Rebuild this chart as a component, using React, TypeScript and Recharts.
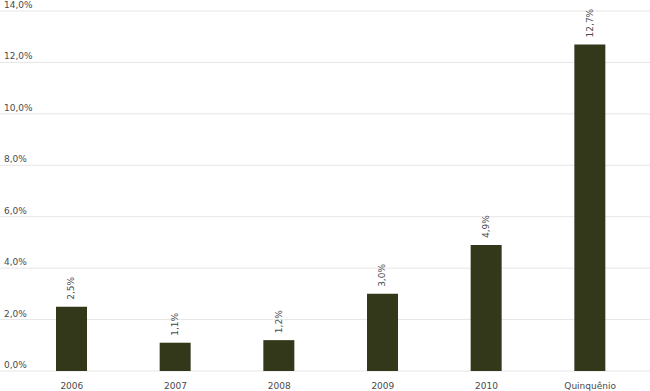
import React from 'react';
import { BarChart, Bar, XAxis, YAxis, CartesianGrid, LabelList } from 'recharts';

const categories = ['2006', '2007', '2008', '2009', '2010', 'Quinquênio'];
const values = [2.5, 1.1, 1.2, 3.0, 4.9, 12.7];
const yTicks = [0, 2, 4, 6, 8, 10, 12, 14];

const data = categories.map((c, i) => ({ name: c, value: values[i] }));

const fmt = (v: number) => v.toFixed(1).replace('.', ',') + '%';

const FONT = 'DejaVu Sans, Verdana, sans-serif';
const TEXT = '#4a4a4a';

const YTick = (props: any) => {
  const { y, payload } = props;
  return (
    <text x={4} y={y - 3} fill={TEXT} fontSize={9} fontFamily={FONT} textAnchor="start">
      {fmt(payload.value)}
    </text>
  );
};

const XTick = (props: any) => {
  const { x, y, payload } = props;
  return (
    <text x={x} y={y + 10} fill={TEXT} fontSize={9} fontFamily={FONT} textAnchor="middle">
      {payload.value}
    </text>
  );
};

const BarLabel = (props: any) => {
  const { x, y, width, value } = props;
  const cx = x + width / 2;
  const ty = y - 7;
  return (
    <text
      x={cx}
      y={ty}
      transform={`rotate(-90, ${cx}, ${ty})`}
      fill={TEXT}
      fontSize={9}
      fontFamily={FONT}
      textAnchor="start"
      dominantBaseline="central"
    >
      {fmt(value)}
    </text>
  );
};

export default function App() {
  return (
    <div style={{ position: 'absolute', left: 0, top: 0, width: 650, height: 391, background: '#fff' }}>
      <BarChart width={650} height={391} data={data} margin={{ top: 11, right: 0, bottom: 0, left: 0 }}>
        <CartesianGrid vertical={false} stroke="#e6e6e6" />
        <XAxis
          dataKey="name"
          axisLine={false}
          tickLine={false}
          height={20}
          padding={{ left: 20, right: 8 }}
          tick={<XTick />}
          interval={0}
        />
        <YAxis
          domain={[0, 14]}
          ticks={yTicks}
          mirror
          width={60}
          axisLine={false}
          tickLine={false}
          tick={<YTick />}
        />
        <Bar dataKey="value" fill="#33381b" barSize={31} isAnimationActive={false}>
          <LabelList dataKey="value" content={<BarLabel />} />
        </Bar>
      </BarChart>
    </div>
  );
}
